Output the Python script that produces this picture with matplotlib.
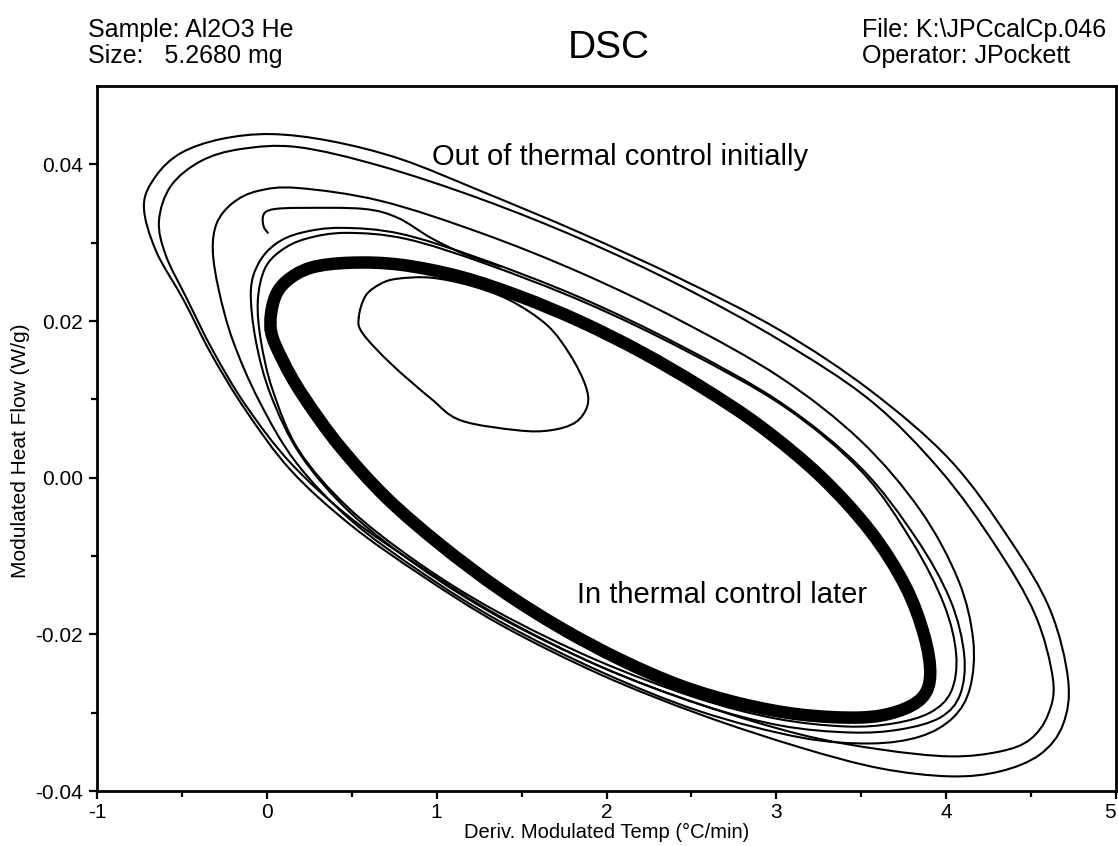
import numpy as np
import matplotlib
matplotlib.use("Agg")
import matplotlib.pyplot as plt
from matplotlib.path import Path
from matplotlib.patches import PathPatch
from matplotlib.ticker import FixedLocator, FixedFormatter

# ---------------- data ----------------
# Outermost first cycle
loopA_x = [-0.724, -0.653, -0.506, -0.271, 0.024, 0.376, 0.788, 1.259, 1.847, 2.435,
           3.024, 3.553, 4.024, 4.376, 4.612, 4.718, 4.688, 4.553, 4.318, 4.024,
           3.612, 3.141, 2.553, 1.965, 1.376, 0.906, 0.494, 0.141, -0.124, -0.329,
           -0.488, -0.653]
loopA_y = [0.03469, 0.03851, 0.04144, 0.04322, 0.04386, 0.04297, 0.04067, 0.03660, 0.03125, 0.02540,
           0.01878, 0.01114, 0.00223, -0.00796, -0.01687, -0.02578, -0.03151, -0.03533, -0.03749, -0.03813,
           -0.03711, -0.03444, -0.03024, -0.02514, -0.01878, -0.01241, -0.00605, 0.00095, 0.00859, 0.01585,
           0.02260, 0.02896]

loopB_x = [-0.635, -0.565, -0.388, -0.153, 0.182, 0.671, 1.259, 1.847, 2.435, 3.024,
           3.553, 3.965, 4.288, 4.524, 4.629, 4.600, 4.494, 4.318, 4.024, 3.612,
           3.141, 2.553, 1.965, 1.376, 0.906, 0.494, 0.141, -0.124, -0.318, -0.471,
           -0.594]
loopB_y = [0.03278, 0.03724, 0.04042, 0.04195, 0.04220, 0.03978, 0.03558, 0.03049, 0.02451, 0.01750,
           0.00987, 0.00095, -0.00859, -0.01750, -0.02578, -0.03024, -0.03342, -0.03495, -0.03558, -0.03469,
           -0.03278, -0.02896, -0.02412, -0.01776, -0.01139, -0.00516, 0.00185, 0.00923, 0.01623, 0.02285,
           0.02833]

loopC_x = [-0.318, -0.294, -0.200, -0.053, 0.182, 0.671, 1.259, 1.847, 2.435, 3.024,
           3.494, 3.847, 4.071, 4.159, 4.141, 4.041, 3.847, 3.553, 3.141, 2.553,
           1.965, 1.376, 0.906, 0.494, 0.171, -0.047, -0.200, -0.282]
loopC_y = [0.02896, 0.03253, 0.03508, 0.03660, 0.03698, 0.03533, 0.03125, 0.02616, 0.02005, 0.01279,
           0.00477, -0.00414, -0.01305, -0.02069, -0.02680, -0.03062, -0.03304, -0.03393, -0.03316, -0.02985,
           -0.02476, -0.01840, -0.01203, -0.00541, 0.00197, 0.00987, 0.01750, 0.02387]

loopD_x = [-0.094, -0.047, 0.053, 0.200, 0.435, 0.788, 1.259, 1.847, 2.435, 3.024,
           3.494, 3.818, 4.024, 4.106, 4.082, 3.965, 3.729, 3.435, 3.024, 2.553,
           1.965, 1.376, 0.906, 0.494, 0.200, 0.024, -0.065]
loopD_y = [0.02387, 0.02743, 0.02985, 0.03125, 0.03189, 0.03113, 0.02794, 0.02298, 0.01687, 0.00961,
           0.00134, -0.00757, -0.01560, -0.02260, -0.02769, -0.03062, -0.03214, -0.03253, -0.03164, -0.02896,
           -0.02412, -0.01789, -0.01152, -0.00452, 0.00286, 0.01050, 0.01750]

loopE_x = [-0.053, -0.012, 0.082, 0.229, 0.465, 0.818, 1.288, 1.876, 2.465, 3.053,
           3.506, 3.800, 3.988, 4.059, 4.029, 3.906, 3.688, 3.406, 2.994, 2.524,
           1.935, 1.347, 0.876, 0.476, 0.188, 0.035, -0.035]
loopE_y = [0.02260, 0.02667, 0.02896, 0.03049, 0.03125, 0.03049, 0.02731, 0.02234, 0.01623, 0.00898,
           0.00070, -0.00821, -0.01623, -0.02260, -0.02731, -0.02998, -0.03138, -0.03176, -0.03074, -0.02807,
           -0.02323, -0.01700, -0.01063, -0.00376, 0.00350, 0.01114, 0.01750]

# Steady-state cycles (thick band)
band_x = [0.024, 0.041, 0.112, 0.259, 0.494, 0.788, 1.141, 1.494, 1.847, 2.200,
          2.553, 2.906, 3.259, 3.553, 3.759, 3.871, 3.906, 3.859, 3.712, 3.494,
          3.141, 2.788, 2.435, 2.082, 1.729, 1.376, 1.024, 0.700, 0.424, 0.212,
          0.094]
band_y = [0.01878, 0.02260, 0.02502, 0.02680, 0.02744, 0.02718, 0.02565, 0.02311, 0.01992, 0.01610,
          0.01165, 0.00656, 0.00019, -0.00681, -0.01381, -0.02018, -0.02514, -0.02807, -0.02985, -0.03062,
          -0.03024, -0.02883, -0.02654, -0.02323, -0.01916, -0.01432, -0.00859, -0.00248, 0.00414, 0.01050,
          0.01496]

# Small inner loop
small_x = [0.541, 0.582, 0.671, 0.771, 0.965, 1.200, 1.435, 1.653, 1.788, 1.876,
           1.888, 1.818, 1.671, 1.476, 1.141, 0.965, 0.729, 0.565]
small_y = [0.02043, 0.02323, 0.02476, 0.02540, 0.02553, 0.02451, 0.02260, 0.01941, 0.01560, 0.01178,
           0.00923, 0.00707, 0.00605, 0.00605, 0.00732, 0.01012, 0.01458, 0.01840]

# Starting hook (open curve)
hook_x = [0.006, -0.018, -0.024, -0.006, 0.053, 0.200, 0.571, 0.771, 0.965, 1.159, 1.376]
hook_y = [0.03125, 0.03202, 0.03317, 0.03393, 0.03431, 0.03444, 0.03431, 0.03317, 0.03062, 0.02858, 0.02693]

x_ticks = [-1, 0, 1, 2, 3, 4, 5]
x_tick_labels = ["-1", "0", "1", "2", "3", "4", "5"]
y_ticks = [-0.04, -0.02, 0.00, 0.02, 0.04]
y_tick_labels = ["-0.04", "-0.02", "0.00", "0.02", "0.04"]

# ---------------- drawing ----------------
FONT = ["Liberation Sans", "DejaVu Sans"]
plt.rcParams["font.family"] = FONT
plt.rcParams["axes.unicode_minus"] = False


def smooth_path(xs, ys, closed=True):
    pts = np.column_stack([xs, ys]).astype(float)
    n = len(pts)
    verts = [pts[0]]
    codes = [Path.MOVETO]
    segs = range(n) if closed else range(n - 1)
    for i in segs:
        if closed:
            p0, p1, p2, p3 = pts[(i - 1) % n], pts[i], pts[(i + 1) % n], pts[(i + 2) % n]
        else:
            p0 = pts[max(i - 1, 0)]
            p1 = pts[i]
            p2 = pts[i + 1]
            p3 = pts[min(i + 2, n - 1)]
        c1 = p1 + (p2 - p0) / 6.0
        c2 = p2 - (p3 - p1) / 6.0
        verts += [c1, c2, p2]
        codes += [Path.CURVE4] * 3
    return Path(verts, codes)


fig = plt.figure(figsize=(11.18, 8.46), dpi=100)
ax = fig.add_axes([97 / 1118, 55 / 846, (1116 - 97) / 1118, (791 - 86) / 846])

def draw(xs, ys, lw=1.5, closed=True):
    ax.add_patch(PathPatch(smooth_path(xs, ys, closed), fill=False, ec="black",
                           lw=lw, joinstyle="round", capstyle="round"))

for lx, ly in [(loopA_x, loopA_y), (loopB_x, loopB_y), (loopC_x, loopC_y),
               (loopD_x, loopD_y), (loopE_x, loopE_y), (small_x, small_y)]:
    draw(lx, ly)
draw(band_x, band_y, lw=9.0)
draw(hook_x, hook_y, closed=False)

ax.set_xlim(-1, 5)
ax.set_ylim(-0.04, 0.05)
ax.xaxis.set_major_locator(FixedLocator(x_ticks))
ax.xaxis.set_major_formatter(FixedFormatter(x_tick_labels))
ax.xaxis.set_minor_locator(FixedLocator([-0.5, 0.5, 1.5, 2.5, 3.5, 4.5]))
ax.yaxis.set_major_locator(FixedLocator(y_ticks))
ax.yaxis.set_major_formatter(FixedFormatter(y_tick_labels))
ax.yaxis.set_minor_locator(FixedLocator([-0.03, -0.01, 0.01, 0.03]))
ax.tick_params(which="major", direction="out", length=6, width=1.6, labelsize=15)
ax.tick_params(axis="x", which="major", pad=2.5)
ax.tick_params(axis="y", which="major", pad=4)
ax.tick_params(which="minor", direction="out", length=4, width=1.6)
for s in ax.spines.values():
    s.set_linewidth(2.0)

fig.canvas.draw()
ax.get_xticklabels()[-1].set_horizontalalignment("right")

ax.set_xlabel("Deriv. Modulated Temp (\u00b0C/min)", fontsize=14.5)
ax.xaxis.set_label_coords(0.5, -0.046)
ax.set_ylabel("Modulated Heat Flow (W/g)", fontsize=15)
ax.yaxis.set_label_coords(-0.066, 0.482)

ax.text(2.08, 0.0410, "Out of thermal control initially", fontsize=21, ha="center", va="center")
ax.text(2.68, -0.0150, "In thermal control later", fontsize=21, ha="center", va="center")

def ftext(x, ytop, s, size, **kw):
    fig.text(x / 1118, 1 - ytop / 846, s, fontsize=size, va="baseline", **kw)

ftext(88, 37, "Sample: Al2O3 He", 18)
ftext(88, 63, "Size:   5.2680 mg", 18)
ftext(862, 37, "File: K:\\JPCcalCp.046", 18)
ftext(862, 63, "Operator: JPockett", 18)
ftext(609, 58, "DSC", 28, ha="center")

fig.savefig("out.png", dpi=100)
